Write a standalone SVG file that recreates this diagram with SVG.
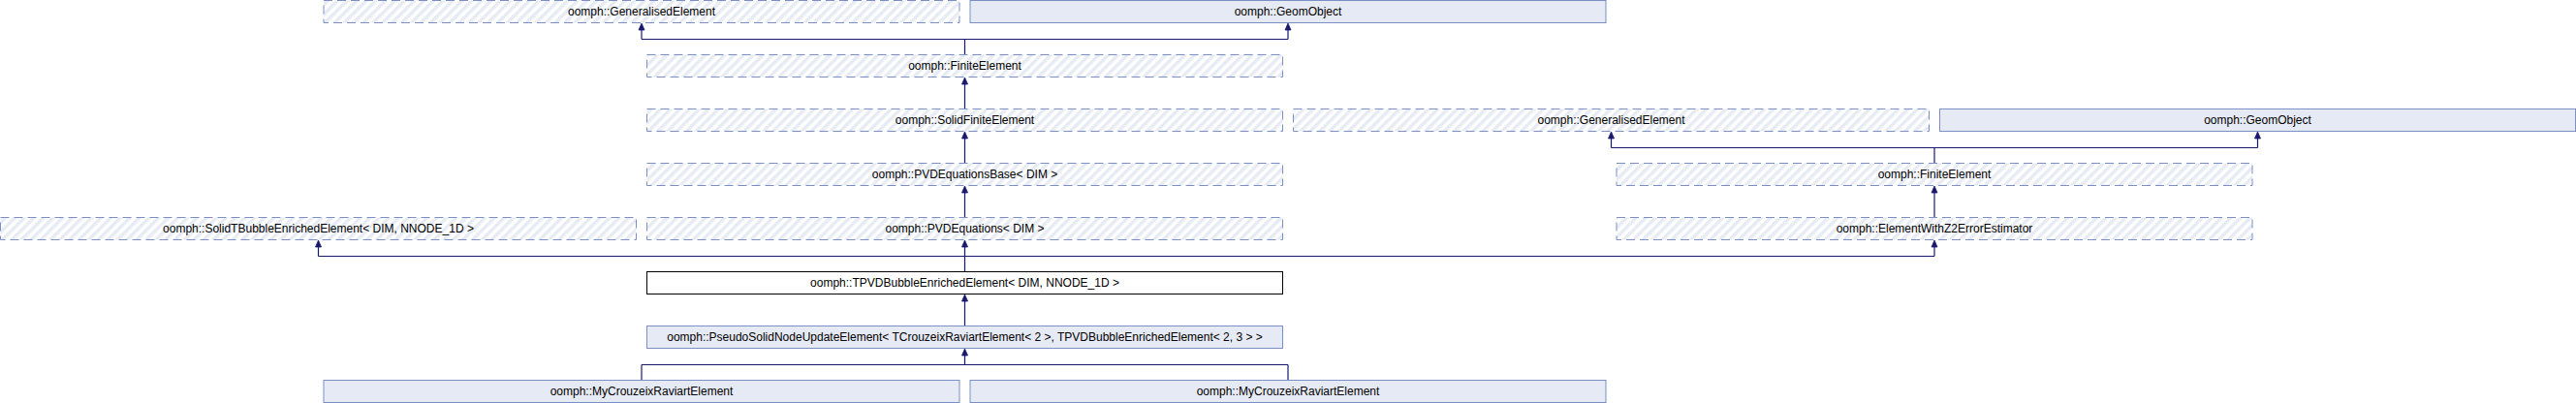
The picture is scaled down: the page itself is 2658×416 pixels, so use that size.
<svg xmlns="http://www.w3.org/2000/svg" width="2658" height="416" viewBox="0 0 2658 416">
<defs>
<pattern id="hatch" patternUnits="userSpaceOnUse" width="7" height="7" patternTransform="rotate(45)">
<rect width="7" height="7" fill="#ffffff"/>
<rect width="3.5" height="7" fill="#e7ebf4"/>
</pattern>
<style>
.u rect{fill:url(#hatch);stroke:#7b8fc6;stroke-width:1;stroke-dasharray:9,5}
.d rect{fill:#e6eaf4;stroke:#7b8fc6;stroke-width:1}
.c rect{fill:#ffffff;stroke:#000000;stroke-width:1}
text{font-family:"Liberation Sans",Arial,sans-serif;font-size:12px;fill:#000;text-anchor:middle}
.e path{fill:none;stroke:#191970;stroke-width:1.2}
.a polygon{fill:#191970;stroke:#191970;stroke-width:0.8}
</style>
</defs>

<g id="edges" class="e">
<path d="M995.5,56 V40.5 M662,40.5 H1329 M662,40.5 V31 M1329,40.5 V31"/>
<path d="M995.5,112 V87"/>
<path d="M995.5,168 V143"/>
<path d="M995.5,224 V199"/>
<path d="M1996,168 V152.5 M1662.5,152.5 H2329.5 M1662.5,152.5 V143 M2329.5,152.5 V143"/>
<path d="M1996,224 V199"/>
<path d="M995.5,280 V255 M328.5,264.5 H1996 M328.5,264.5 V255 M1996,264.5 V255"/>
<path d="M995.5,336 V311"/>
<path d="M662,392 V376.5 M1329,392 V376.5 M662,376.5 H1329 M995.5,376.5 V367"/>
</g>
<g id="arrowheads" class="a">
<polygon points="662,24 665,31 659,31"/>
<polygon points="1329,24 1332,31 1326,31"/>
<polygon points="995.5,80 998.5,87 992.5,87"/>
<polygon points="995.5,136 998.5,143 992.5,143"/>
<polygon points="995.5,192 998.5,199 992.5,199"/>
<polygon points="1662.5,136 1665.5,143 1659.5,143"/>
<polygon points="2329.5,136 2332.5,143 2326.5,143"/>
<polygon points="1996,192 1999,199 1993,199"/>
<polygon points="328.5,248 331.5,255 325.5,255"/>
<polygon points="995.5,248 998.5,255 992.5,255"/>
<polygon points="1996,248 1999,255 1993,255"/>
<polygon points="995.5,304 998.5,311 992.5,311"/>
<polygon points="995.5,360 998.5,367 992.5,367"/>
</g>

<g id="n_gen1" class="u"><rect x="334" y="0.5" width="656" height="23"/><text x="662" y="16">oomph::GeneralisedElement</text></g>
<g id="n_geom1" class="d"><rect x="1001" y="0.5" width="656" height="23"/><text x="1329" y="16">oomph::GeomObject</text></g>
<g id="n_fe1" class="u"><rect x="667.5" y="56.5" width="656" height="23"/><text x="995.5" y="72">oomph::FiniteElement</text></g>
<g id="n_sfe" class="u"><rect x="667.5" y="112.5" width="656" height="23"/><text x="995.5" y="128">oomph::SolidFiniteElement</text></g>
<g id="n_gen2" class="u"><rect x="1334.5" y="112.5" width="656" height="23"/><text x="1662.5" y="128">oomph::GeneralisedElement</text></g>
<g id="n_geom2" class="d"><rect x="2001.5" y="112.5" width="656" height="23"/><text x="2329.5" y="128">oomph::GeomObject</text></g>
<g id="n_pvdbase" class="u"><rect x="667.5" y="168.5" width="656" height="23"/><text x="995.5" y="184">oomph::PVDEquationsBase&lt; DIM &gt;</text></g>
<g id="n_fe2" class="u"><rect x="1668" y="168.5" width="656" height="23"/><text x="1996" y="184">oomph::FiniteElement</text></g>
<g id="n_stbe" class="u"><rect x="0.5" y="224.5" width="656" height="23"/><text x="328.5" y="240">oomph::SolidTBubbleEnrichedElement&lt; DIM, NNODE_1D &gt;</text></g>
<g id="n_pvd" class="u"><rect x="667.5" y="224.5" width="656" height="23"/><text x="995.5" y="240">oomph::PVDEquations&lt; DIM &gt;</text></g>
<g id="n_z2" class="u"><rect x="1668" y="224.5" width="656" height="23"/><text x="1996" y="240">oomph::ElementWithZ2ErrorEstimator</text></g>
<g id="n_tpvd" class="c"><rect x="667.5" y="280.5" width="656" height="23"/><text x="995.5" y="296">oomph::TPVDBubbleEnrichedElement&lt; DIM, NNODE_1D &gt;</text></g>
<g id="n_pseudo" class="d"><rect x="667.5" y="336.5" width="656" height="23"/><text x="995.5" y="352">oomph::PseudoSolidNodeUpdateElement&lt; TCrouzeixRaviartElement&lt; 2 &gt;, TPVDBubbleEnrichedElement&lt; 2, 3 &gt; &gt;</text></g>
<g id="n_mycr1" class="d"><rect x="334" y="392.5" width="656" height="23"/><text x="662" y="408">oomph::MyCrouzeixRaviartElement</text></g>
<g id="n_mycr2" class="d"><rect x="1001" y="392.5" width="656" height="23"/><text x="1329" y="408">oomph::MyCrouzeixRaviartElement</text></g>
</svg>
